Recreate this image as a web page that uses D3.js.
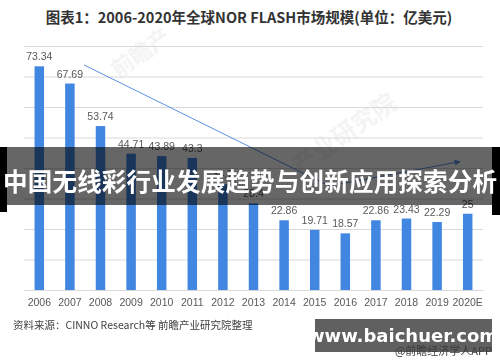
<!DOCTYPE html>
<html>
<head>
<meta charset="utf-8">
<script src="https://cdn.jsdelivr.net/npm/d3@7/dist/d3.min.js"></script>
<style>
  html, body { margin: 0; padding: 0; background: #fff; }
  svg { display: block; }
</style>
</head>
<body>
<svg id="chart" width="500" height="362"></svg>
<script>
// ---- data ----
const years = ["2006","2007","2008","2009","2010","2011","2012","2013","2014","2015","2016","2017","2018","2019","2020E"];
const values = [73.34, 67.69, 53.74, 44.71, 43.89, 43.3, 34.7, 28.4, 22.86, 19.71, 18.57, 22.86, 23.43, 22.29, 25];
const valueLabels = ["73.34","67.69","53.74","44.71","43.89","43.3","34.7","28.4","22.86","19.71","18.57","22.86","23.43","22.29","25"];
const yTicks = [0, 10, 20, 30, 40, 50, 60, 70, 80];
// trend arrow annotation: [category index position, value]
const trendIdx = [1.46, 9.47, 13.75];
const trendVal = [73.8, 34.1, 42.1];
const titleText = "图表1：2006-2020年全球NOR FLASH市场规模(单位：亿美元)";
const sourceText = "资料来源：CINNO Research等 前瞻产业研究院整理";
const bannerText = "中国无线彩行业发展趋势与创新应用探索分析";

const svg = d3.select("#chart");
const mLeft = 24, mRight = 483, mTop = 46, mBottom = 290;

const x = d3.scaleBand().domain(years).range([mLeft, mRight]).paddingInner(0.69).paddingOuter(0.345);
const y = d3.scaleLinear().domain([0, 80]).range([mBottom, mTop]);
const xIdx = d3.scaleLinear().domain([0, years.length - 1])
  .range([x(years[0]) + x.bandwidth() / 2, x(years[years.length - 1]) + x.bandwidth() / 2]);

// title
svg.append("text").attr("x", 249).attr("y", 23).attr("text-anchor", "middle")
  .attr("font-family", "'Noto Sans CJK SC', sans-serif").attr("font-weight", "bold")
  .attr("font-size", 14.5).attr("fill", "#333").text(titleText);

// faint watermark
const wm = svg.append("g").attr("opacity", 0.07).attr("fill", "#555")
  .attr("font-family", "'Noto Sans CJK SC', sans-serif").attr("font-weight", "bold");
wm.append("text").attr("transform", "translate(118,78) rotate(-35)").attr("font-size", 22).text("前瞻产");
wm.append("text").attr("transform", "translate(300,175) rotate(-35)").attr("font-size", 24).text("产业研究院");

// gridlines via axis
const yAxis = d3.axisLeft(y).tickValues(yTicks).tickSize(-(mRight - mLeft)).tickFormat("");
const gy = svg.append("g").attr("transform", `translate(${mLeft},0)`).call(yAxis);
gy.select(".domain").remove();
gy.selectAll(".tick line").attr("stroke", "#d9d9d9").attr("stroke-width", 1);

// bars
svg.append("g").selectAll("rect").data(values).join("rect")
  .attr("x", (d, i) => x(years[i]))
  .attr("y", d => y(d))
  .attr("width", x.bandwidth())
  .attr("height", d => y(0) - y(d))
  .attr("fill", "#4186e0");

// value labels
svg.append("g").selectAll("text").data(values).join("text")
  .attr("x", (d, i) => x(years[i]) + x.bandwidth() / 2)
  .attr("y", d => y(d) - 6)
  .attr("text-anchor", "middle")
  .attr("font-family", "'Liberation Sans', Arial, sans-serif")
  .attr("font-size", 10.5).attr("fill", "#595959")
  .text((d, i) => valueLabels[i]);

// x axis
const xAxis = d3.axisBottom(x).tickSize(0).tickPadding(9);
const gx = svg.append("g").attr("transform", `translate(0,${mBottom})`).call(xAxis);
gx.select(".domain").attr("stroke", "#d9d9d9");
gx.selectAll("text").attr("font-family", "'Liberation Sans', Arial, sans-serif")
  .attr("font-size", 10.5).attr("fill", "#595959");

// trend arrow
const defs = svg.append("defs");
defs.append("marker").attr("id", "arr").attr("viewBox", "0 0 10 10")
  .attr("refX", 9).attr("refY", 5).attr("markerWidth", 7).attr("markerHeight", 6)
  .attr("orient", "auto").attr("markerUnits", "userSpaceOnUse")
  .append("path").attr("d", "M0,0 L10,5 L0,10 z").attr("fill", "#5b8fe6");
const line = d3.line().x(d => xIdx(d[0])).y(d => y(d[1]));
svg.append("path").datum(trendIdx.map((t, i) => [t, trendVal[i]]))
  .attr("d", line).attr("fill", "none").attr("stroke", "#5b8fe6").attr("stroke-width", 1)
  .attr("marker-end", "url(#arr)");

// source
svg.append("text").attr("x", 13).attr("y", 329)
  .attr("font-family", "'Noto Sans CJK SC', sans-serif").attr("font-size", 10.5)
  .attr("fill", "#404040").text(sourceText);

// banner overlay
svg.append("rect").attr("x", 0).attr("y", 147).attr("width", 500).attr("height", 58)
  .attr("fill", "#000").attr("fill-opacity", 0.6);
svg.append("rect").attr("x", 0).attr("y", 147).attr("width", 7).attr("height", 65).attr("fill", "#000");
svg.append("rect").attr("x", 492).attr("y", 147).attr("width", 8).attr("height", 68).attr("fill", "#000");
svg.append("text").attr("x", 250).attr("y", 191).attr("text-anchor", "middle")
  .attr("font-family", "'Noto Sans CJK SC', sans-serif").attr("font-weight", "bold")
  .attr("font-size", 24.5).attr("fill", "#fff").attr("textLength", 494).text(bannerText);

// watermark box
svg.append("rect").attr("x", 315).attr("y", 319).attr("width", 177).attr("height", 33).attr("fill", "#606060");
svg.append("text").attr("x", 403).attr("y", 342).attr("text-anchor", "middle")
  .attr("font-family", "'DejaVu Sans', sans-serif").attr("font-weight", "bold")
  .attr("font-size", 18).attr("fill", "#fff").text("www.baichuer.com");
svg.append("text").attr("x", 492).attr("y", 355).attr("text-anchor", "end")
  .attr("font-family", "'Noto Sans CJK SC', sans-serif")
  .attr("font-size", 11).attr("fill", "#3a3a3a").text("@前瞻经济学人APP");
</script>
</body>
</html>
